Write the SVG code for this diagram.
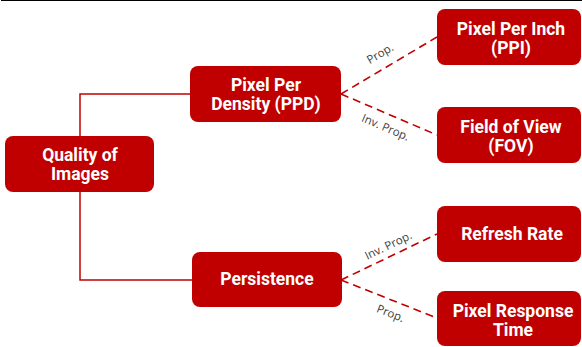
<svg xmlns="http://www.w3.org/2000/svg" width="582" height="347" viewBox="0 0 582 347">
<style>
.box{fill:#C00000}
.nt{font-family:Roboto,"Liberation Sans",Arial,sans-serif;font-weight:bold;font-size:17.5px;fill:#FFFFFF;text-anchor:middle}
.solid{fill:none;stroke:#C00000;stroke-width:1.5}
.dash{fill:none;stroke:#C00000;stroke-width:1.6;stroke-dasharray:8 5}
.lbl{font-family:"Open Sans","Liberation Sans",Arial,sans-serif;font-size:11.5px;fill:#404040;text-anchor:middle}
</style>
<rect width="582" height="347" fill="#FFFFFF"/>
<path d="M1 0.5 H582" fill="none" stroke="#000000" stroke-width="1"/>
<g id="connectors">
<path class="solid" d="M190 94 H80 V280 H192"/>
<path class="dash" d="M341 94 L437 37"/>
<path class="dash" d="M341 94 L437 135"/>
<path class="dash" d="M341 280 L437 234"/>
<path class="dash" d="M341 280 L437 318"/>
<text class="lbl" transform="translate(382,57) rotate(-30.7)">Prop.</text>
<text class="lbl" transform="translate(384,131) rotate(23)">Inv. Prop.</text>
<text class="lbl" transform="translate(390,249) rotate(-25.6)">Inv. Prop.</text>
<text class="lbl" transform="translate(389,317) rotate(21.6)">Prop.</text>
</g>
<g id="quality">
<rect class="box" x="5" y="136" width="149" height="56" rx="8"/>
<text class="nt" x="80" y="161">Quality of</text>
<text class="nt" x="80" y="180">Images</text>
</g>
<g id="ppd">
<rect class="box" x="190" y="66" width="151" height="56" rx="8"/>
<text class="nt" x="266" y="91">Pixel Per</text>
<text class="nt" x="266" y="110">Density (PPD)</text>
</g>
<g id="persistence">
<rect class="box" x="192" y="252" width="150" height="55" rx="8"/>
<text class="nt" x="267" y="285">Persistence</text>
</g>
<g id="ppi">
<rect class="box" x="437" y="9" width="144" height="56" rx="8"/>
<text class="nt" x="511" y="34.5">Pixel Per Inch</text>
<text class="nt" x="511" y="53.5">(PPI)</text>
</g>
<g id="fov">
<rect class="box" x="437" y="107" width="144" height="56" rx="8"/>
<text class="nt" x="511" y="133">Field of View</text>
<text class="nt" x="511" y="152">(FOV)</text>
</g>
<g id="refresh">
<rect class="box" x="437" y="206" width="144" height="56" rx="8"/>
<text class="nt" x="512" y="240">Refresh Rate</text>
</g>
<g id="prt">
<rect class="box" x="437" y="291" width="144" height="55" rx="8"/>
<text class="nt" x="513" y="317">Pixel Response</text>
<text class="nt" x="513" y="336">Time</text>
</g>
</svg>
